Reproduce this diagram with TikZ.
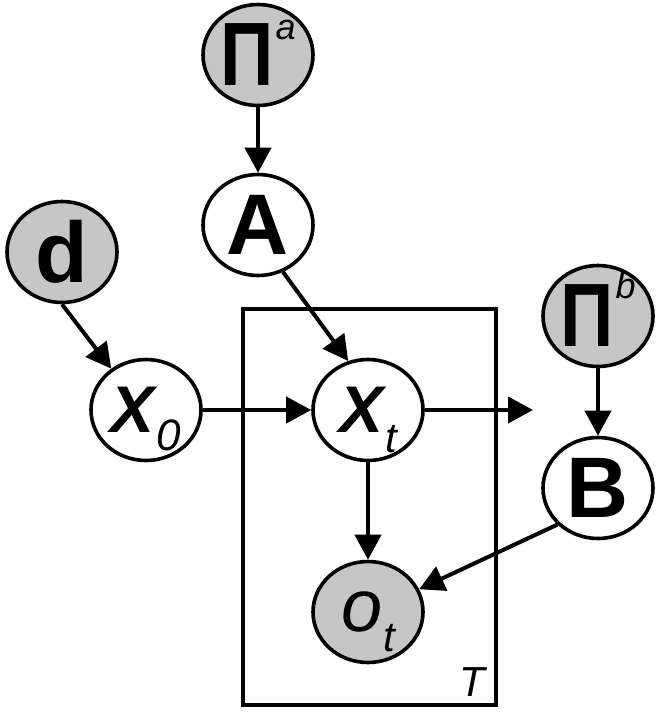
\documentclass[tikz,border=0pt]{standalone}
\usepackage{fontspec}
\setmainfont{Liberation Sans}
\usetikzlibrary{arrows.meta,shapes.geometric}
\definecolor{obsgray}{HTML}{C6C6C6}
\newcommand{\fsz}[1]{\fontsize{#1}{#1}\selectfont}
\newcommand{\prior}{\scalebox{0.82}[1]{Π}}

\begin{document}
\begin{tikzpicture}[
	x=1pt,
	y=-1pt,
	var/.style={ellipse,draw,line width=3.6pt,inner sep=0pt,minimum width=110pt,minimum height=101pt,fill=white},
	obs/.style={var,fill=obsgray},
	edge/.style={line width=4pt,-{Triangle[length=25pt,width=26pt]}},
	plate/.style={line width=4.2pt}
	]
	\path[use as bounding box] (0,0) rectangle (661,712);
	
	%------------------------------
	% Plate over the time steps
	%------------------------------
	\draw[plate] (243,309) rectangle (496,705);
	\node (lblT) at (472,682) {\fsz{42}\itshape T};
	
	%------------------------------
	% Variables
	%------------------------------
	\node[obs] (pia) at (258,55) {\fsz{90}\bfseries\prior\kern2pt\smash{\raisebox{46pt}{\fsz{36}\mdseries\itshape a}}};
	\node[var] (A) at (258,225) {\fsz{86}\bfseries A};
	\node[obs] (d) at (62,252) {\fsz{86}\bfseries d};
	\node[var] (X0) at (146,410) {\fsz{66}\bfseries\itshape X\kern2pt\smash{\raisebox{-18pt}{\fsz{44}\mdseries 0}}};
	\node[var] (Xt) at (368,410) {\fsz{66}\bfseries\itshape X\kern2pt\smash{\raisebox{-20pt}{\fsz{42}\mdseries t}}};
	\node[obs] (pib) at (598,316) {\fsz{90}\bfseries\prior\kern2pt\smash{\raisebox{48pt}{\fsz{36}\mdseries\itshape b}}};
	\node[var] (B) at (598,488) {\fsz{86}\bfseries B};
	\node[obs] (ot) at (368,612) {\fsz{74}\itshape o\kern1pt\smash{\raisebox{-20pt}{\fsz{42}t}}};
	
	% free end of the transition arrow
	\coordinate (xout) at (533,410);
	
	%------------------------------
	% Dependencies
	%------------------------------
	\draw[edge] (pia) -- (A);
	\draw[edge] (A.-62) -- (Xt.112);
	\draw[edge] (d.south) -- (X0.130);
	\draw[edge] (X0) -- (Xt);
	\draw[edge] (Xt) -- (xout);
	\draw[edge] (Xt) -- (ot);
	\draw[edge] (pib) -- (B);
	\draw[edge] (B.222) -- (ot.24);
\end{tikzpicture}
\end{document}
